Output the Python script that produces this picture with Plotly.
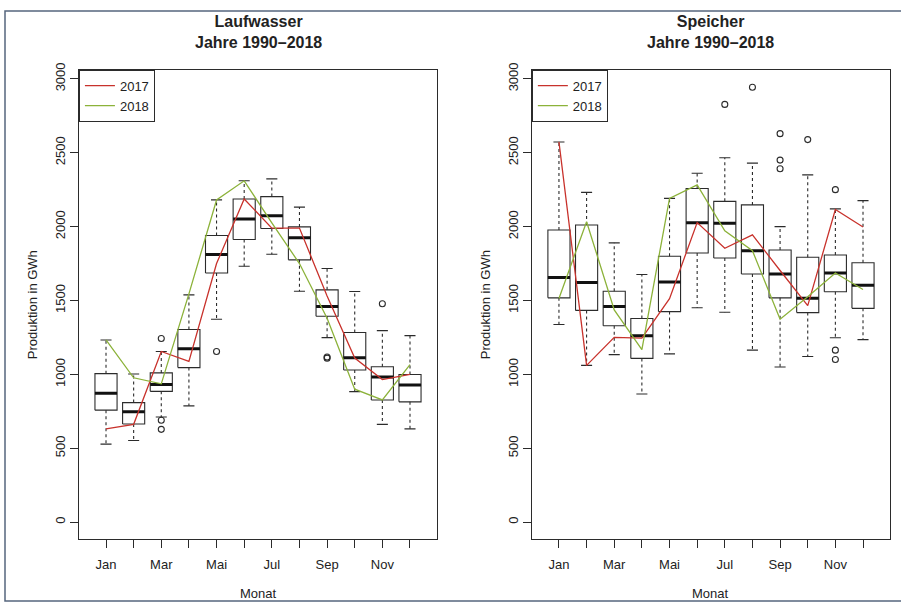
import plotly.graph_objects as go

# ---------------- data ----------------
months = ["Jan", "Feb", "Mar", "Apr", "Mai", "Jun", "Jul", "Aug", "Sep", "Okt", "Nov", "Dez"]
month_labels = ["Jan", "", "Mar", "", "Mai", "", "Jul", "", "Sep", "", "Nov", ""]

# Laufwasser
lw_lower = [528, 553, 712, 787, 1373, 1732, 1813, 1563, 1249, 883, 662, 631]
lw_q1 = [758, 664, 885, 1046, 1686, 1913, 1987, 1775, 1393, 1030, 827, 814]
lw_med = [872, 747, 932, 1173, 1811, 2051, 2074, 1924, 1460, 1113, 983, 928]
lw_q3 = [1005, 809, 1010, 1304, 1940, 2187, 2203, 1998, 1572, 1283, 1052, 999]
lw_upper = [1233, 1003, 1155, 1538, 2181, 2310, 2323, 2132, 1717, 1561, 1296, 1262]
lw_2017 = [631, 662, 1155, 1088, 1750, 2187, 1990, 1990, 1530, 1110, 965, 1000]
lw_2018 = [1233, 977, 936, 1545, 2180, 2310, 2025, 1750, 1380, 900, 827, 1066]
lw_out_month = [3, 3, 3, 5, 9, 9, 11]
lw_out_val = [1243, 690, 628, 1155, 1110, 1118, 1478]

# Speicher
sp_lower = [1338, 1061, 1134, 867, 1139, 1451, 1420, 1164, 1050, 1121, 1248, 1235]
sp_q1 = [1518, 1433, 1329, 1108, 1425, 1821, 1788, 1679, 1518, 1418, 1559, 1447]
sp_med = [1656, 1621, 1460, 1262, 1625, 2027, 2022, 1837, 1679, 1516, 1686, 1603]
sp_q3 = [1977, 2011, 1563, 1378, 1799, 2258, 2171, 2147, 1842, 1793, 1808, 1755]
sp_upper = [2573, 2232, 1890, 1676, 2191, 2361, 2466, 2430, 2000, 2350, 2120, 2176]
sp_2017 = [2573, 1061, 1251, 1246, 1512, 2027, 1853, 1944, 1703, 1465, 2116, 1997]
sp_2018 = [1514, 2033, 1436, 1168, 2191, 2283, 1971, 1837, 1373, 1525, 1686, 1574]
sp_out_month = [7, 8, 9, 9, 9, 10, 11, 11, 11]
sp_out_val = [2827, 2943, 2629, 2450, 2392, 2589, 2250, 1164, 1101]

y_ticks = [0, 500, 1000, 1500, 2000, 2500, 3000]

# ---------------- style ----------------
FONT = "Liberation Sans, Arial, sans-serif"
BOXC = "#2b2b2b"
RED = "#c8322c"
GREEN = "#8cb23a"
HALF = 0.4
CAP = 0.2

fig = go.Figure()


def add_panel(xa, ya, lower, q1, med, q3, upper, out_m, out_v, s17, s18, legend):
    pos = list(range(1, len(q1) + 1))
    bx, by, mx, my, wx, wy, cx, cy = [], [], [], [], [], [], [], []
    for p, lo, a, m, b, up in zip(pos, lower, q1, med, q3, upper):
        bx += [p - HALF, p + HALF, p + HALF, p - HALF, p - HALF, None]
        by += [a, a, b, b, a, None]
        mx += [p - HALF, p + HALF, None]
        my += [m, m, None]
        wx += [p, p, None, p, p, None]
        wy += [b, up, None, a, lo, None]
        cx += [p - CAP, p + CAP, None, p - CAP, p + CAP, None]
        cy += [up, up, None, lo, lo, None]
    common = dict(xaxis=xa, yaxis=ya, showlegend=False, hoverinfo="skip")
    fig.add_trace(go.Scatter(x=wx, y=wy, mode="lines",
                             line=dict(color=BOXC, width=1.1, dash="3px,3px"), **common))
    fig.add_trace(go.Scatter(x=cx, y=cy, mode="lines",
                             line=dict(color=BOXC, width=1.1), **common))
    fig.add_trace(go.Scatter(x=bx, y=by, mode="lines",
                             line=dict(color=BOXC, width=1.1), **common))
    fig.add_trace(go.Scatter(x=mx, y=my, mode="lines",
                             line=dict(color="#111111", width=3), **common))
    fig.add_trace(go.Scatter(x=out_m, y=out_v, mode="markers",
                             marker=dict(symbol="circle-open", size=6, color=BOXC,
                                         line=dict(width=1.1, color=BOXC)), **common))
    fig.add_trace(go.Scatter(x=pos, y=s17, mode="lines", name="2017",
                             line=dict(color=RED, width=1.3), xaxis=xa, yaxis=ya,
                             legend=legend))
    fig.add_trace(go.Scatter(x=pos, y=s18, mode="lines", name="2018",
                             line=dict(color=GREEN, width=1.3), xaxis=xa, yaxis=ya,
                             legend=legend))


add_panel("x", "y", lw_lower, lw_q1, lw_med, lw_q3, lw_upper,
          lw_out_month, lw_out_val, lw_2017, lw_2018, "legend")
add_panel("x2", "y2", sp_lower, sp_q1, sp_med, sp_q3, sp_upper,
          sp_out_month, sp_out_val, sp_2017, sp_2018, "legend2")

XD1 = [0.0876, 0.4851]
XD2 = [0.5903, 0.9879]
YD = [0.1089, 0.8950]

xaxis_common = dict(range=[0.02, 12.98], tickvals=list(range(1, 13)), ticktext=month_labels,
                    ticks="outside", ticklen=8, tickwidth=1, tickcolor=BOXC,
                    ticklabelstandoff=5,
                    showline=True, linecolor=BOXC, linewidth=1, mirror=True,
                    showgrid=False, zeroline=False,
                    tickfont=dict(family=FONT, size=13, color="#222"))
yaxis_common = dict(range=[-114, 3062], tickvals=y_ticks, ticktext=[str(v) for v in y_ticks],
                    ticks="outside", ticklen=8, tickwidth=1, tickcolor=BOXC,
                    showline=True, linecolor=BOXC, linewidth=1, mirror=True,
                    showgrid=False, zeroline=False, tickangle=-90,
                    tickfont=dict(family=FONT, size=13, color="#222"))

legend_common = dict(bgcolor="white", bordercolor=BOXC, borderwidth=1,
                     font=dict(family=FONT, size=13, color="#222"),
                     xanchor="left", yanchor="top", tracegroupgap=0,
                     itemwidth=30)

annotations = []
for xd, title in [(XD1, "Laufwasser"), (XD2, "Speicher")]:
    cxp = (xd[0] + xd[1]) / 2
    annotations.append(dict(x=cxp, y=1 - 25.5 / 604, xref="paper", yref="paper",
                            text="<b>" + title + "<br>Jahre 1990–2018</b>",
                            showarrow=False, xanchor="center", yanchor="middle",
                            font=dict(family=FONT, size=16, color="#222")))
    annotations.append(dict(x=cxp, y=1 - 593 / 604, xref="paper", yref="paper",
                            text="Monat", showarrow=False, xanchor="center",
                            yanchor="middle", font=dict(family=FONT, size=13, color="#222")))
    annotations.append(dict(x=(xd[0] * 901 - 47) / 901, y=(YD[0] + YD[1]) / 2,
                            xref="paper", yref="paper", text="Produktion in GWh",
                            textangle=-90, showarrow=False, xanchor="center",
                            yanchor="middle", font=dict(family=FONT, size=13, color="#222")))

fig.update_layout(
    width=901, height=604,
    margin=dict(l=0, r=0, t=0, b=0),
    paper_bgcolor="white", plot_bgcolor="white",
    font=dict(family=FONT, color="#222"),
    xaxis=dict(domain=XD1, anchor="y", **xaxis_common),
    yaxis=dict(domain=YD, anchor="x", **yaxis_common),
    xaxis2=dict(domain=XD2, anchor="y2", **xaxis_common),
    yaxis2=dict(domain=YD, anchor="x2", **yaxis_common),
    legend=dict(x=XD1[0], y=YD[1], **legend_common),
    legend2=dict(x=XD2[0], y=YD[1], **legend_common),
    annotations=annotations,
    shapes=[dict(type="rect", xref="paper", yref="paper",
                 x0=5 / 901, y0=1 - 601 / 604, x1=1.01, y1=1 - 4 / 604,
                 line=dict(color="#55667d", width=1.5))],
)

fig.write_html("out.html", config={"displayModeBar": False},
               post_script="document.body.style.margin='0px';document.body.style.overflow='hidden';")
